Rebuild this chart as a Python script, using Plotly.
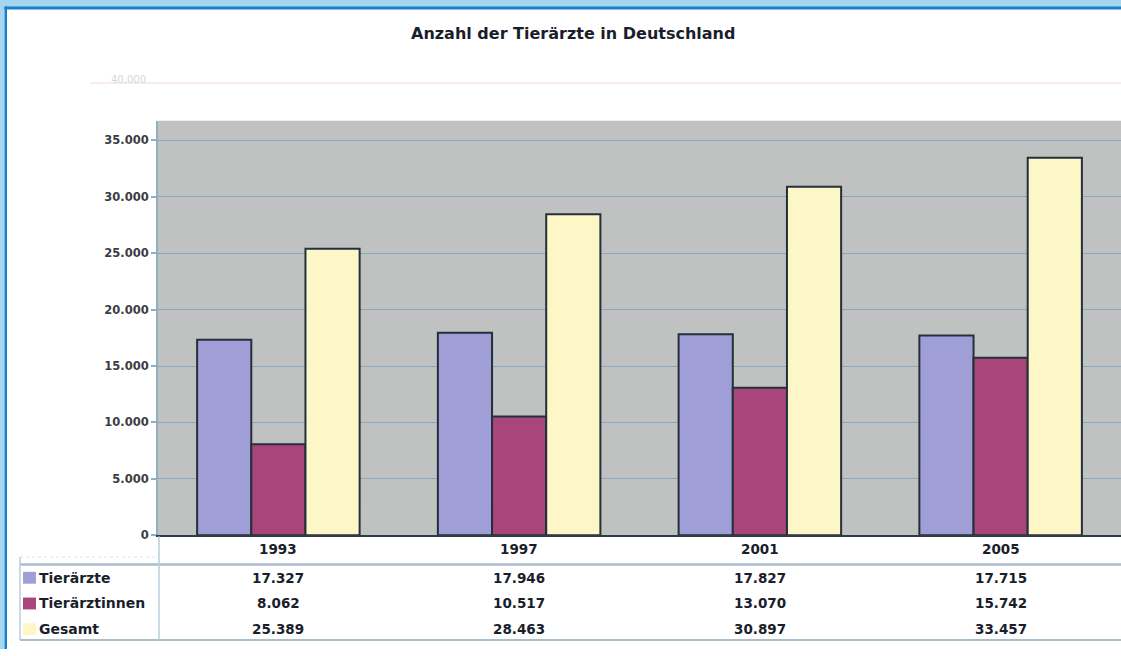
import plotly.graph_objects as go

W, H = 1121, 656

title = "Anzahl der Tierärzte in Deutschland"
years = ["1993", "1997", "2001", "2005"]
series_names = ["Tierärzte", "Tierärztinnen", "Gesamt"]
tieraerzte = [17327, 17946, 17827, 17715]
tieraerztinnen = [8062, 10517, 13070, 15742]
gesamt = [25389, 28463, 30897, 33457]
y_ticks = [0, 5000, 10000, 15000, 20000, 25000, 30000, 35000]

colors = ["#a09ed6", "#a8467c", "#fdf6c6"]
series_values = [tieraerzte, tieraerztinnen, gesamt]


def px(x):
    return x / W


def py(y):
    return 1 - y / H


def fmt(v):
    return f"{v:,}".replace(",", ".")


FONT = "DejaVu Sans"
TXT = "#1a1e2c"

fig = go.Figure()
for name, vals, col in zip(series_names, series_values, colors):
    fig.add_trace(go.Bar(
        x=years, y=vals, name=name,
        marker=dict(color=col, line=dict(color="#22303a", width=2)),
        hoverinfo="x+y+name",
    ))

shapes = []
annotations = []

# outer blue frame
shapes += [
    dict(type="rect", xref="paper", yref="paper", x0=0, x1=1, y0=py(7), y1=1,
         fillcolor="#a4d6f0", line=dict(width=0), layer="below"),
    dict(type="rect", xref="paper", yref="paper", x0=0, x1=1, y0=py(9.5), y1=py(6.5),
         fillcolor="#1a7fc8", line=dict(width=0), layer="below"),
    dict(type="rect", xref="paper", yref="paper", x0=0, x1=px(4.5), y0=0, y1=1,
         fillcolor="#a4d6f0", line=dict(width=0), layer="below"),
    dict(type="rect", xref="paper", yref="paper", x0=px(4.5), x1=px(7), y0=0, y1=py(6.5),
         fillcolor="#1a7fc8", line=dict(width=0), layer="below"),
    # faint ghost line
    dict(type="line", xref="paper", yref="paper", x0=px(90), x1=1, y0=py(84), y1=py(84),
         line=dict(color="#f6e6e2", width=1.5), layer="below"),
]

# table lines
shapes += [
    dict(type="line", xref="paper", yref="paper", x0=px(20), x1=px(158), y0=py(563), y1=py(563),
         line=dict(color="#dde6ec", width=1, dash="dot")),
    dict(type="line", xref="paper", yref="paper", x0=px(20), x1=1, y0=py(570.5), y1=py(570.5),
         line=dict(color="#a9bdca", width=2.5)),
    dict(type="line", xref="paper", yref="paper", x0=px(20), x1=1, y0=py(647), y1=py(647),
         line=dict(color="#a9c0cc", width=2)),
    dict(type="line", xref="paper", yref="paper", x0=px(20), x1=px(20), y0=py(647), y1=py(563),
         line=dict(color="#b8ccd8", width=1.5)),
    dict(type="line", xref="paper", yref="paper", x0=px(159), x1=px(159), y0=py(647), y1=py(542),
         line=dict(color="#b8ccd8", width=1.5)),
]

row_y = [584, 610, 636]

# year labels (category index positions on the x axis)
for i, yr in enumerate(years):
    annotations.append(dict(x=i, xref="x", y=py(555), yref="paper", text=yr,
                            showarrow=False, xanchor="center", yanchor="middle",
                            font=dict(family=FONT, size=13.5, color=TXT, weight="bold")))

# table rows
for name, vals, col, ry in zip(series_names, series_values, colors, row_y):
    shapes.append(dict(type="rect", xref="paper", yref="paper",
                       x0=px(23), x1=px(36), y0=py(ry + 6), y1=py(ry - 6),
                       fillcolor=col, line=dict(width=0)))
    annotations.append(dict(x=px(37), xref="paper", y=py(ry), yref="paper", text=name,
                            showarrow=False, xanchor="left", yanchor="middle",
                            font=dict(family=FONT, size=14, color=TXT, weight="bold")))
    for i, v in enumerate(vals):
        annotations.append(dict(x=i, xref="x", y=py(ry), yref="paper", text=fmt(v),
                                showarrow=False, xanchor="center", yanchor="middle",
                                font=dict(family=FONT, size=13.5, color=TXT, weight="bold")))

# title
annotations.append(dict(x=px(573), xref="paper", y=py(34), yref="paper", text=title,
                        showarrow=False, xanchor="center", yanchor="middle",
                        font=dict(family=FONT, size=16, color=TXT, weight="bold")))
# faint ghost tick label
annotations.append(dict(x=px(148), xref="paper", y=py(80), yref="paper", text="40.000",
                        showarrow=False, xanchor="right", yanchor="middle",
                        font=dict(family=FONT, size=10, color="#d0d8e0")))

fig.update_layout(
    width=W, height=H,
    margin=dict(l=0, r=0, t=0, b=0),
    paper_bgcolor="#ffffff",
    plot_bgcolor="#c0c2c2",
    separators=",.",
    showlegend=False,
    barmode="group",
    bargap=0.325,
    bargroupgap=0,
    shapes=shapes,
    annotations=annotations,
    xaxis=dict(type="category", domain=[px(158), 1.0], range=[-0.5, 3.5],
               showticklabels=False, ticks="",
               showgrid=False, showline=True, linecolor="#2f3b45", linewidth=1.5,
               zeroline=False),
    yaxis=dict(domain=[py(541), py(122)], range=[0, 36750], tickvals=y_ticks,
               tickformat=",d", ticks="outside", ticklen=5, tickcolor="#8fb0c0",
               tickwidth=1.5,
               showline=True, linecolor="#8fb0c0", linewidth=2,
               showgrid=True, gridcolor="#86aabb", gridwidth=1,
               zeroline=False,
               tickfont=dict(family=FONT, size=11.5, color="#3a3d44", weight="bold")),
)

fig.write_html(
    "out.html",
    config={"displayModeBar": False},
    post_script="document.body.style.margin='0';document.body.style.overflow='hidden';",
)
